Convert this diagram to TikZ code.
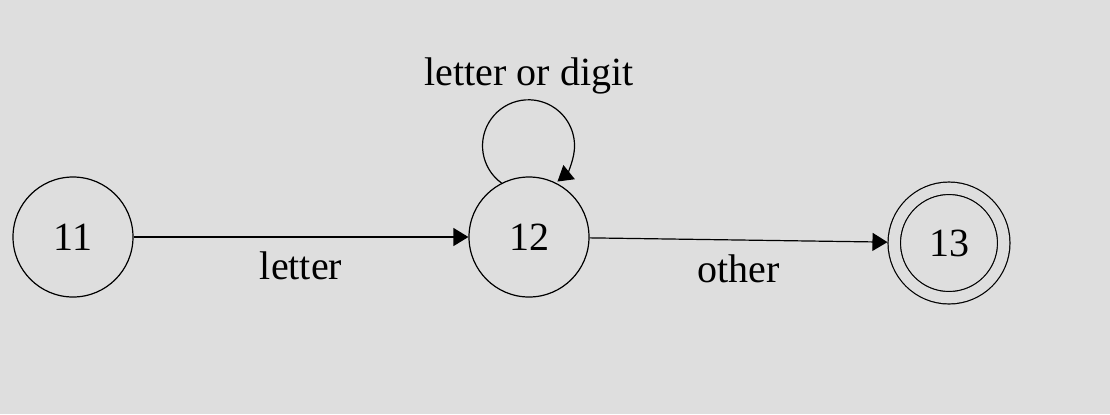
\documentclass[tikz,border=0pt]{standalone}
\usepackage{fontspec}
\setmainfont{Liberation Serif}
\usetikzlibrary{arrows.meta,positioning}
\definecolor{bgc}{RGB}{222,222,222}
\begin{document}
\begin{tikzpicture}[node distance=228pt,>={Triangle[length=7.5pt,width=9pt]},
  line width=0.6pt,font=\fontsize{20}{24}\selectfont]
\tikzstyle{st}=[draw,circle,minimum size=60pt,inner sep=0pt]
\fill[bgc] (0,0) rectangle (555pt,-207pt);
\useasboundingbox (0,0) rectangle (555pt,-207pt);
\node[st] (a) at (36.5pt,-118.5pt) {11};
\node[st] (b) [right of=a] {12};
\node[st,double=bgc,double distance=5.6pt,minimum size=54.75pt,outer sep=3.4pt]
  (c) [right of=b,node distance=210pt,yshift=-3pt] {13};
\node (l) [above of=b,node distance=80.7pt] {letter or digit};
\draw[->] (a) -- (b) node[midway,below=3.5pt] {letter};
\draw[->] (b) -- (c) node[midway,below=3.5pt] {other};
\draw[->] (b.117) arc[start angle=234,end angle=-51,radius=23pt];
\end{tikzpicture}
\end{document}
